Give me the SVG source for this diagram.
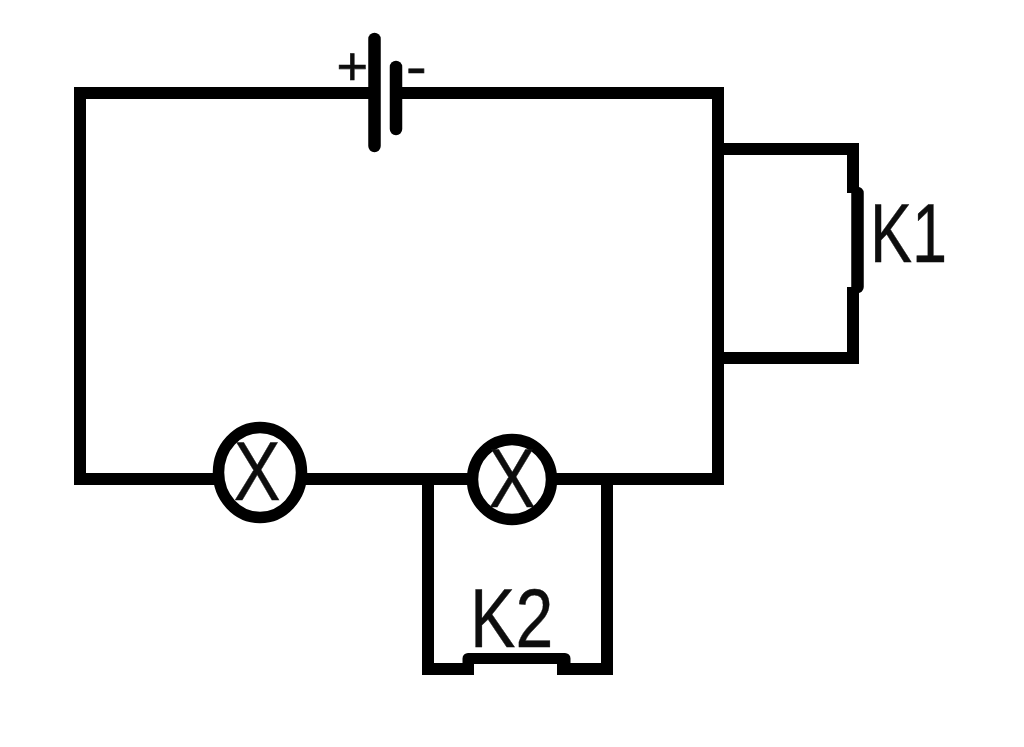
<svg xmlns="http://www.w3.org/2000/svg" width="1024" height="747" viewBox="0 0 1024 747">
<style>
.w{fill:none;stroke:#000;stroke-width:12;stroke-linecap:square;stroke-linejoin:miter}
.p{fill:none;stroke:#000;stroke-width:12.500;stroke-linecap:round}
.l{fill:#fff;stroke:#000;stroke-width:11.500}
.t{font-family:"Liberation Sans",Arial,sans-serif;font-size:83px;fill:#111;stroke:#111;stroke-width:.4}
.s{font-family:"Liberation Sans",Arial,sans-serif;font-size:54px;fill:#111;stroke:#111;stroke-width:.6}
</style>
<defs><filter id="b" x="0" y="0" width="1024" height="747" filterUnits="userSpaceOnUse"><feGaussianBlur stdDeviation="0.6"/></filter></defs>
<rect width="1024" height="747" fill="#fff"/>
<g filter="url(#b)">
<g id="connectors">
<path class="w" d="M374 93H80V479H718V93H396"/>
<path class="w" d="M718 149H853V187M853 293V358H718"/>
<path class="w" d="M428 479V669H468M563 669H607V479"/>
</g>
<g id="battery">
<line class="p" x1="374.500" y1="39" x2="374.500" y2="146"/>
<line class="p" x1="396" y1="67" x2="396" y2="129"/>
<text class="s" transform="translate(336.500 85)">+</text>
<text class="s" transform="translate(406 85) scale(1.150 1)">-</text>
</g>
<g id="K1">
<path fill="none" stroke="#000" stroke-width="12.500" stroke-linejoin="round" d="M853 193H857.500V287H853"/>
<text class="t" transform="translate(870 262) scale(0.76 1)">K1</text>
</g>
<g id="lamp1">
<ellipse class="l" cx="260" cy="472.500" rx="41.500" ry="45"/>
<text class="t" transform="translate(233.500 500) scale(0.85 1)">X</text>
</g>
<g id="lamp2">
<ellipse class="l" cx="512" cy="479.500" rx="39.500" ry="40"/>
<text class="t" transform="translate(488.500 507) scale(0.85 1)">X</text>
</g>
<g id="K2">
<path fill="none" stroke="#000" stroke-width="11" stroke-linejoin="round" d="M468 669V658.500H565V669"/>
<text class="t" transform="translate(470 647) scale(0.82 1)">K2</text>
</g>
</g>
</svg>
